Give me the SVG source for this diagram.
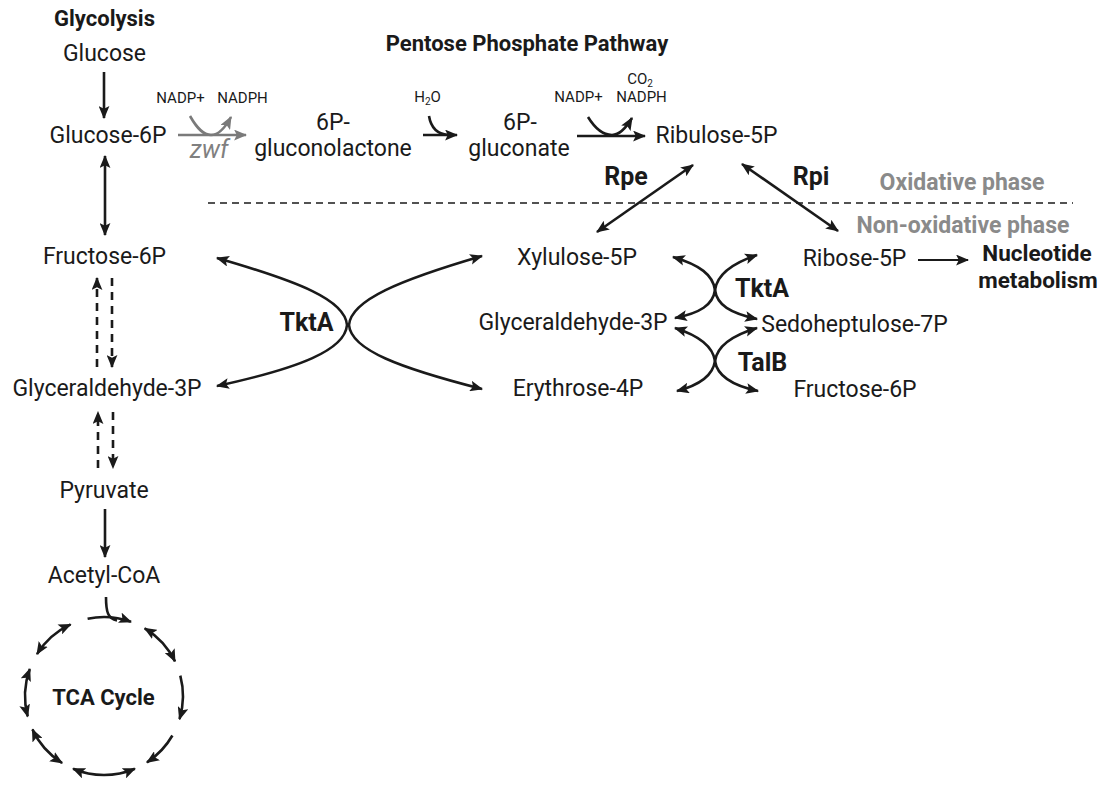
<svg xmlns="http://www.w3.org/2000/svg" width="1118" height="786" viewBox="0 0 1118 786">
<style>
text{font-family:Roboto,"Liberation Sans",Arial,sans-serif;fill:#1a1a1a;text-anchor:middle}
.m{font-size:23px}
.b{font-size:22px;font-weight:bold}
.en{font-size:25px;font-weight:bold}
.nu{font-size:22.5px;font-weight:bold}
.s{font-size:15px}
.g{fill:#8a8a8a;font-weight:bold;font-size:23px}
.z{fill:#808080;font-style:italic;font-size:25px}
.ln{fill:none;stroke:#1a1a1a;stroke-width:2.6}
.e{marker-end:url(#ah)}
.d{marker-start:url(#ah);marker-end:url(#ah)}
.ds{stroke-dasharray:8 6}
.gl{fill:none;stroke:#7a7a7a;stroke-width:2.6}
</style>
<defs>
<marker id="ah" viewBox="0 0 12 10" refX="11" refY="5" markerWidth="13" markerHeight="11" markerUnits="userSpaceOnUse" orient="auto-start-reverse"><path d="M0,0 L12,5 L0,10 L2.5,5 z" fill="#1a1a1a"/></marker>
<marker id="ahg" viewBox="0 0 12 10" refX="11" refY="5" markerWidth="13" markerHeight="11" markerUnits="userSpaceOnUse" orient="auto-start-reverse"><path d="M0,0 L12,5 L0,10 L2.5,5 z" fill="#7a7a7a"/></marker>
</defs>
<rect width="1118" height="786" fill="#fff"/>

<g id="titles">
<text class="b" x="104.5" y="26">Glycolysis</text>
<text class="b" x="527" y="51">Pentose Phosphate Pathway</text>
</g>
<g id="glucose"><text class="m" x="104.5" y="61">Glucose</text></g>
<g id="glucose6p"><text class="m" x="108" y="143">Glucose-6P</text></g>
<g id="fructose6p"><text class="m" x="104.5" y="264">Fructose-6P</text></g>
<g id="gap-left"><text class="m" x="107" y="396">Glyceraldehyde-3P</text></g>
<g id="pyruvate"><text class="m" x="104" y="498">Pyruvate</text></g>
<g id="acetylcoa"><text class="m" x="104" y="583">Acetyl-CoA</text></g>
<g id="tca"><text class="b" x="103.5" y="705">TCA Cycle</text></g>

<g id="gluconolactone"><text class="m" x="333" y="130">6P-</text><text class="m" x="333" y="156">gluconolactone</text></g>
<g id="gluconate"><text class="m" x="520" y="130">6P-</text><text class="m" x="519" y="156">gluconate</text></g>
<g id="ribulose5p"><text class="m" x="716.5" y="143">Ribulose-5P</text></g>
<g id="xylulose5p"><text class="m" x="577" y="265">Xylulose-5P</text></g>
<g id="ribose5p"><text class="m" x="854.5" y="266">Ribose-5P</text></g>
<g id="nucleotide"><text class="nu" x="1037" y="261">Nucleotide</text><text class="nu" x="1038" y="288">metabolism</text></g>
<g id="gap-mid"><text class="m" x="573" y="330">Glyceraldehyde-3P</text></g>
<g id="sedoheptulose7p"><text class="m" x="854.5" y="332">Sedoheptulose-7P</text></g>
<g id="erythrose4p"><text class="m" x="578" y="396">Erythrose-4P</text></g>
<g id="fructose6p-right"><text class="m" x="855" y="397">Fructose-6P</text></g>

<g id="labels">
<text class="s" x="180.5" y="103">NADP+</text>
<text class="s" x="242.5" y="103">NADPH</text>
<text class="z" x="209" y="158">zwf</text>
<text class="s" x="427.5" y="102">H<tspan font-size="10" dy="3">2</tspan><tspan dy="-3">O</tspan></text>
<text class="s" x="578.5" y="102">NADP+</text>
<text class="s" x="641.5" y="102">NADPH</text>
<text class="s" x="640" y="84">CO<tspan font-size="10" dy="3">2</tspan></text>
<text class="en" x="626" y="185">Rpe</text>
<text class="en" x="811" y="185">Rpi</text>
<text class="g" x="962" y="190">Oxidative phase</text>
<text class="g" x="963" y="233">Non-oxidative phase</text>
<text class="en" x="306.5" y="331">TktA</text>
<text class="en" x="762" y="297">TktA</text>
<text class="en" x="762.5" y="371">TalB</text>
</g>

<g id="connectors">
<path class="ln e" d="M104,72 L104,118"/>
<path class="ln d" d="M105,156 L105,235"/>
<path class="ln e ds" d="M97,367 L97,278"/>
<path class="ln e ds" d="M112,278 L112,367"/>
<path class="ln e ds" d="M98,468 L98,412"/>
<path class="ln e ds" d="M113,412 L113,468"/>
<path class="ln e" d="M105,509 L105,557"/>
<path class="gl" d="M178,135 L246,135" marker-end="url(#ahg)"/>
<path class="gl" d="M190,116 C198,130 204,135 211,135 C219,135 225,128 231,117" marker-end="url(#ahg)"/>
<path class="ln e" d="M423,135 L457,135"/>
<path class="ln" d="M429,116 C431,128 437,134 448,135"/>
<path class="ln e" d="M577,136 L645,136"/>
<path class="ln e" d="M588,117 C596,130 604,135 612,135 C620,135 626,128 632,118"/>
<path class="ln d" d="M693,165 L597,232"/>
<path class="ln d" d="M742,164 L838,231"/>
<path d="M208,203 L1073,203" fill="none" stroke="#1a1a1a" stroke-width="1.5" stroke-dasharray="7 5"/>
<path class="ln e" style="stroke-width:1.8" d="M918,260 L968,260"/>
<path class="ln d" d="M217,258 C300,282 345,300 347,325 C345,350 300,368 217,386"/>
<path class="ln d" d="M482,256 C400,280 351,300 349,325 C351,350 400,368 482,389"/>
<path class="ln d" d="M673,257 C700,265 713,275 715,290 C713,305 700,313 675,318"/>
<path class="ln d" d="M757,255 C730,264 717,275 715,290 C717,305 730,313 757,319"/>
<path class="ln d" d="M675,328 C700,336 713,347 715,361 C713,375 700,385 677,391"/>
<path class="ln d" d="M757,328 C730,336 717,347 715,361 C717,375 730,385 758,391"/>
<path class="ln e" d="M87.6,618.7 A79,79 0 0 1 131,621.8"/>
<path class="ln" d="M106,597 C106,612 108,619 117,620.5"/>
<path class="ln d" d="M144.7,628.3 A79,79 0 0 1 175,661.4"/>
<path class="ln e" d="M180.3,675.6 A79,79 0 0 1 179.5,719.1"/>
<path class="ln e" d="M172.4,735.5 A79,79 0 0 1 147,762.3"/>
<path class="ln d" d="M134.9,768.7 A79,79 0 0 1 73.1,768.7"/>
<path class="ln d" d="M62.1,763 A79,79 0 0 1 32.4,729.4"/>
<path class="ln d" d="M27.7,716.4 A79,79 0 0 1 29.8,669"/>
<path class="ln d" d="M37,654.1 A79,79 0 0 1 70.6,624.4"/>
</g>
</svg>
